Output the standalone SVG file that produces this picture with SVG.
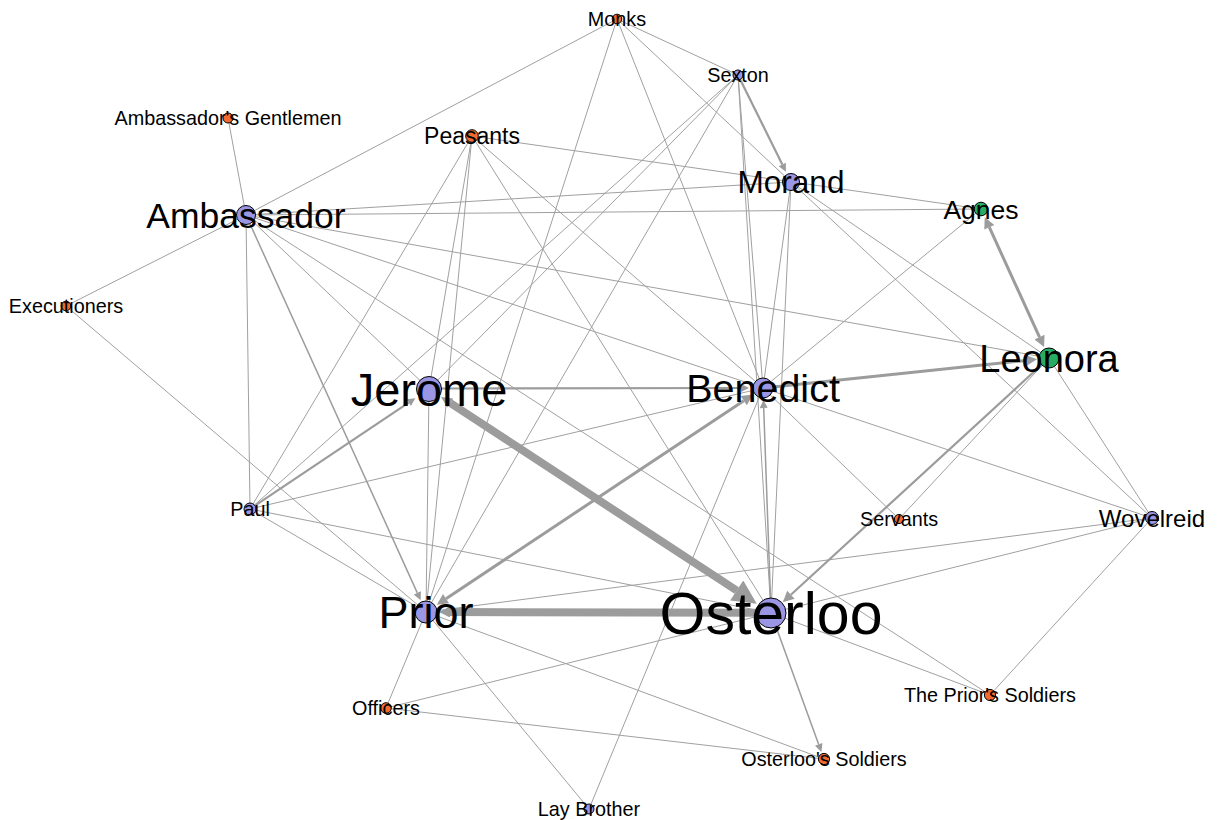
<svg xmlns="http://www.w3.org/2000/svg" width="1224" height="820" viewBox="0 0 1224 820">
<style>
.e{stroke:#a0a0a0;stroke-width:1;fill:none}
.e2{stroke:#9c9c9c;stroke-width:1.5;fill:none}
.e3{stroke:#9c9c9c;stroke-width:2.2;fill:none}
.e4{stroke:#9c9c9c;stroke-width:3;fill:none}
.e8{stroke:#9c9c9c;stroke-width:8;fill:none}
.p{fill:#9b96e4;stroke:#000;stroke-width:1}
.o{fill:#f26a2e;stroke:#000;stroke-width:1}
.g{fill:#27ad62;stroke:#000;stroke-width:1}
text{font-family:"Liberation Sans",Arial,sans-serif;fill:#000;text-anchor:middle}
.s{font-size:19.8px}
</style>
<defs>
<marker id="ahB" markerUnits="userSpaceOnUse" markerWidth="26" markerHeight="24" viewBox="0 0 10 10" refX="0" refY="5" orient="auto"><path d="M0,0 L10,5 L0,10 z" fill="#9c9c9c"/></marker>
<marker id="ahM" markerUnits="userSpaceOnUse" markerWidth="13" markerHeight="11" viewBox="0 0 10 10" refX="0" refY="5" orient="auto-start-reverse"><path d="M0,0 L10,5 L0,10 z" fill="#9c9c9c"/></marker>
<marker id="ahS" markerUnits="userSpaceOnUse" markerWidth="10" markerHeight="8" viewBox="0 0 10 10" refX="0" refY="5" orient="auto"><path d="M0,0 L10,5 L0,10 z" fill="#9c9c9c"/></marker>
</defs>
<rect width="1224" height="820" fill="#fff"/>
<g id="connectors">
<line class="e" x1="617" y1="19" x2="246" y2="215"/>
<line class="e" x1="617" y1="19" x2="738" y2="75"/>
<line class="e" x1="617" y1="19" x2="426" y2="612"/>
<line class="e" x1="617" y1="19" x2="763" y2="388"/>
<line class="e" x1="617" y1="19" x2="791" y2="182"/>
<line class="e" x1="738" y1="75" x2="250" y2="509"/>
<line class="e" x1="738" y1="75" x2="429" y2="389"/>
<line class="e" x1="738" y1="75" x2="426" y2="612"/>
<line class="e" x1="738" y1="75" x2="763" y2="388"/>
<line class="e" x1="738" y1="75" x2="771" y2="613"/>
<line class="e" x1="472" y1="136" x2="981" y2="209"/>
<line class="e" x1="472" y1="136" x2="250" y2="509"/>
<line class="e" x1="472" y1="136" x2="429" y2="389"/>
<line class="e" x1="472" y1="136" x2="426" y2="612"/>
<line class="e" x1="472" y1="136" x2="771" y2="613"/>
<line class="e" x1="472" y1="136" x2="763" y2="388"/>
<line class="e" x1="246" y1="215" x2="228" y2="118"/>
<line class="e" x1="246" y1="215" x2="66" y2="306"/>
<line class="e" x1="246" y1="215" x2="791" y2="182"/>
<line class="e" x1="246" y1="215" x2="981" y2="209"/>
<line class="e" x1="246" y1="215" x2="1049" y2="358"/>
<line class="e" x1="246" y1="215" x2="763" y2="388"/>
<line class="e" x1="246" y1="215" x2="250" y2="509"/>
<line class="e" x1="246" y1="215" x2="429" y2="389"/>
<line class="e" x1="246" y1="215" x2="990" y2="695"/>
<line class="e" x1="791" y1="182" x2="763" y2="388"/>
<line class="e" x1="791" y1="182" x2="771" y2="613"/>
<line class="e" x1="791" y1="182" x2="1049" y2="358"/>
<line class="e" x1="791" y1="182" x2="1152" y2="518"/>
<line class="e" x1="981" y1="209" x2="763" y2="388"/>
<line class="e" x1="1049" y1="358" x2="899" y2="519"/>
<line class="e" x1="1049" y1="358" x2="1152" y2="518"/>
<line class="e" x1="763" y1="388" x2="250" y2="509"/>
<line class="e" x1="763" y1="388" x2="589" y2="809"/>
<line class="e" x1="763" y1="388" x2="899" y2="519"/>
<line class="e" x1="763" y1="388" x2="1152" y2="518"/>
<line class="e" x1="429" y1="389" x2="426" y2="612"/>
<line class="e" x1="66" y1="306" x2="426" y2="612"/>
<line class="e" x1="250" y1="509" x2="426" y2="612"/>
<line class="e" x1="250" y1="509" x2="771" y2="613"/>
<line class="e" x1="426" y1="612" x2="386" y2="708"/>
<line class="e" x1="426" y1="612" x2="589" y2="809"/>
<line class="e" x1="426" y1="612" x2="824" y2="759"/>
<line class="e" x1="426" y1="612" x2="1152" y2="518"/>
<line class="e" x1="771" y1="613" x2="386" y2="708"/>
<line class="e" x1="771" y1="613" x2="1152" y2="518"/>
<line class="e" x1="771" y1="613" x2="990" y2="695"/>
<line class="e" x1="386" y1="708" x2="824" y2="759"/>
<line class="e" x1="1152" y1="518" x2="990" y2="695"/>
<line class="e2" x1="249.9" y1="223.7" x2="417.3" y2="592.9" marker-end="url(#ahS)"/>
<line class="e2" x1="776.1" y1="627.1" x2="818.7" y2="744.4" marker-end="url(#ahS)"/>
<line class="e2" x1="770.5" y1="598" x2="763.7" y2="408" marker-end="url(#ahS)"/>
<line class="e3" x1="740.2" y1="79.5" x2="782.3" y2="164.5" marker-end="url(#ahS)"/>
<line class="e3" x1="255" y1="505.7" x2="408.7" y2="402.6" marker-end="url(#ahS)"/>
<line class="e3" x1="441" y1="388.5" x2="741" y2="388" marker-end="url(#ahS)"/>
<line class="e3" x1="1041.6" y1="364.8" x2="790.9" y2="594.7" marker-end="url(#ahM)"/>
<line class="e4" x1="773" y1="387" x2="1026.1" y2="360.4" marker-end="url(#ahM)"/>
<line class="e4" x1="989.3" y1="227.2" x2="1039.5" y2="337.1" marker-start="url(#ahM)" marker-end="url(#ahM)"/>
<line class="e4" x1="446" y1="598.7" x2="743.8" y2="400.7" marker-start="url(#ahM)" marker-end="url(#ahM)"/>
<line class="e4" x1="736.7" y1="590.5" x2="450.3" y2="403" marker-end="url(#ahM)"/>
<line class="e8" x1="450.3" y1="403" x2="736.7" y2="590.5" marker-end="url(#ahB)"/>
<line class="e4" x1="760" y1="612.5" x2="450" y2="612" marker-end="url(#ahM)"/>
<line class="e8" x1="450" y1="612" x2="758" y2="612.8"/>
</g>
<g id="node-monks"><circle class="o" cx="617" cy="19" r="4.8"/><text class="s" x="617" y="26">Monks</text></g>
<g id="node-sexton"><circle class="p" cx="738" cy="75" r="5"/><text class="s" x="738" y="82">Sexton</text></g>
<g id="node-ambassadors-gentlemen"><circle class="o" cx="228" cy="118" r="5"/><text class="s" x="228" y="125">Ambassador's Gentlemen</text></g>
<g id="node-peasants"><circle class="o" cx="472" cy="136" r="6.3"/><text x="472" y="144.2" font-size="23">Peasants</text></g>
<g id="node-morand"><circle class="p" cx="791" cy="182" r="8.5"/><text x="791" y="193.3" font-size="31.5">Morand</text></g>
<g id="node-agnes"><circle class="g" cx="981" cy="209" r="6.8"/><text x="981" y="218.5" font-size="26.5">Agnes</text></g>
<g id="node-ambassador"><circle class="p" cx="246" cy="215" r="9.5"/><text x="246" y="227.7" font-size="35.5">Ambassador</text></g>
<g id="node-executioners"><circle class="o" cx="66" cy="306" r="4.8"/><text class="s" x="66" y="313">Executioners</text></g>
<g id="node-leonora"><circle class="g" cx="1049" cy="358" r="10"/><text x="1049" y="371.6" font-size="38">Leonora</text></g>
<g id="node-jerome"><circle class="p" cx="429" cy="389" r="12.5"/><text x="429" y="405.8" font-size="47">Jerome</text></g>
<g id="node-benedict"><circle class="p" cx="763" cy="388" r="10"/><text x="763" y="402.1" font-size="39.5">Benedict</text></g>
<g id="node-paul"><circle class="p" cx="250" cy="509" r="6"/><text class="s" x="250" y="516">Paul</text></g>
<g id="node-servants"><circle class="o" cx="899" cy="519" r="4.6"/><text class="s" x="899" y="526">Servants</text></g>
<g id="node-wovelreid"><circle class="p" cx="1152" cy="518" r="6.5"/><text x="1152" y="526.6" font-size="24">Wovelreid</text></g>
<g id="node-prior"><circle class="p" cx="426" cy="612" r="11"/><text x="426" y="628.1" font-size="45">Prior</text></g>
<g id="node-osterloo"><circle class="p" cx="771" cy="613" r="15"/><text x="771" y="634.1" font-size="59">Osterloo</text></g>
<g id="node-priors-soldiers"><circle class="o" cx="990" cy="695" r="5.6"/><text class="s" x="990" y="702">The Prior's Soldiers</text></g>
<g id="node-officers"><circle class="o" cx="386" cy="708" r="5.3"/><text class="s" x="386" y="715">Officers</text></g>
<g id="node-osterloos-soldiers"><circle class="o" cx="824" cy="759" r="5.6"/><text class="s" x="824" y="766">Osterloo's Soldiers</text></g>
<g id="node-lay-brother"><circle class="p" cx="589" cy="809" r="5"/><text class="s" x="589" y="816">Lay Brother</text></g>
</svg>
